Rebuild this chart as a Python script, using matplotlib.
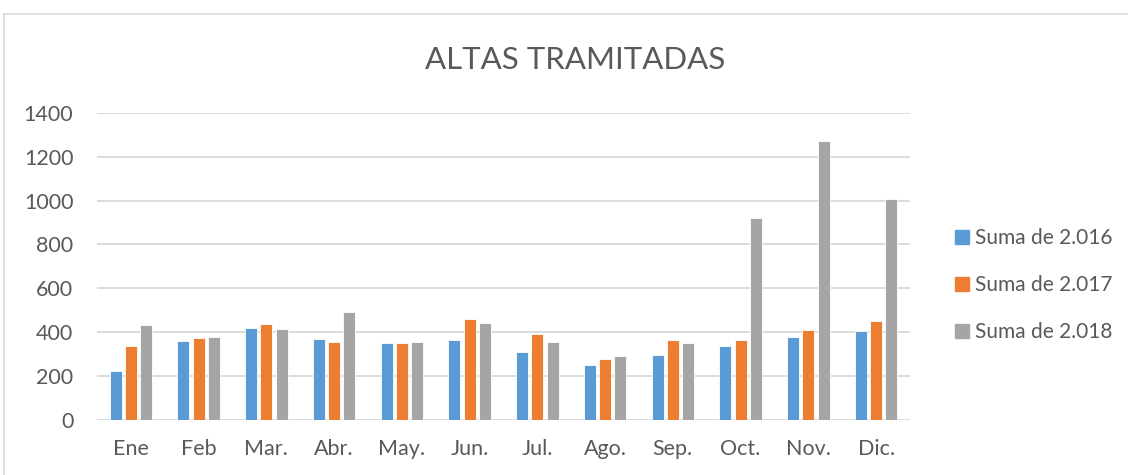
import matplotlib
matplotlib.use("Agg")
import matplotlib.pyplot as plt
import numpy as np
from matplotlib.lines import Line2D

months = ["Ene", "Feb", "Mar.", "Abr.", "May.", "Jun.", "Jul.", "Ago.", "Sep.", "Oct.", "Nov.", "Dic."]
s2016 = [221, 357, 420, 366, 350, 365, 307, 250, 293, 337, 375, 402]
s2017 = [334, 372, 437, 354, 348, 458, 389, 275, 362, 364, 407, 452]
s2018 = [432, 377, 415, 492, 353, 443, 353, 289, 351, 921, 1272, 1005]
series_names = ["Suma de 2.016", "Suma de 2.017", "Suma de 2.018"]
colors = ["#5B9BD5", "#ED7D31", "#A5A5A5"]

plt.rcParams['font.family'] = ['Lato', 'DejaVu Sans']
text_col = "#595959"

fig = plt.figure(figsize=(11.28, 4.75), dpi=100)
ax = fig.add_axes([97/1128, 1-419.5/475, (910-97)/1128, (419.5-113)/475])

x = np.arange(len(months))
w = 0.18
step = 0.225
for i, (vals, c) in enumerate(zip([s2016, s2017, s2018], colors)):
    ax.bar(x + (i-1)*step, vals, width=w, color=c, edgecolor="white", linewidth=0.6, zorder=3)

ax.set_xlim(-0.5, len(months)-0.5)
ax.set_ylim(0, 1400)
ax.set_yticks(range(0, 1401, 200))
ax.set_xticks(x)
ax.set_xticklabels(months)
ax.grid(axis='y', color="#D9D9D9", linewidth=1.3, zorder=0)
for s in ax.spines.values():
    s.set_visible(False)
ax.tick_params(axis='both', length=0, labelsize=15.5, colors=text_col)
ax.tick_params(axis='y', pad=17)
ax.tick_params(axis='x', pad=14)

fig.text(575/1128, 1-60/475, "ALTAS TRAMITADAS", ha='center', va='center', fontsize=22.5, color=text_col)

handles = [Line2D([0], [0], marker='s', linestyle='None', markersize=9.5, markerfacecolor=c, markeredgecolor=c) for c in colors]
fig.legend(handles, series_names, loc='center left', bbox_to_anchor=(933/1128, 1-285/475), frameon=False,
           fontsize=15, labelcolor=text_col, handletextpad=0.1, labelspacing=1.3, handlelength=1.0)

# chart border
fig.add_artist(Line2D([4/1128, 1], [1-14/475, 1-14/475], color="#D9D9D9", linewidth=1.2, transform=fig.transFigure))
fig.add_artist(Line2D([4/1128, 4/1128], [0, 1-14/475], color="#D9D9D9", linewidth=1.2, transform=fig.transFigure))

fig.savefig("out.png", dpi=100)
